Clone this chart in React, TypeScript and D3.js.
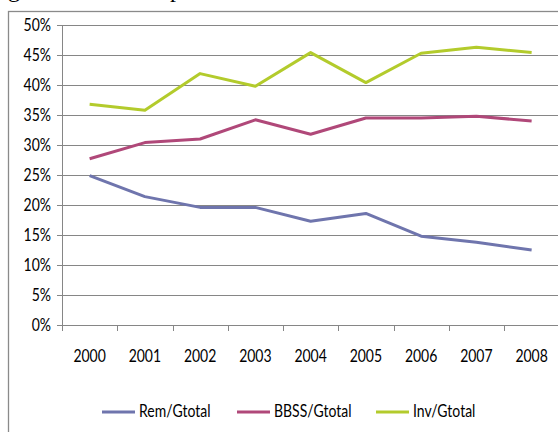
import React from "react";
import * as d3 from "d3";

const years = ["2000", "2001", "2002", "2003", "2004", "2005", "2006", "2007", "2008"];
const remGtotal = [0.249, 0.214, 0.196, 0.196, 0.173, 0.186, 0.148, 0.138, 0.125];
const bbssGtotal = [0.277, 0.304, 0.31, 0.342, 0.318, 0.345, 0.345, 0.348, 0.34];
const invGtotal = [0.368, 0.358, 0.419, 0.398, 0.454, 0.404, 0.453, 0.463, 0.454];
const yTicks = [0, 0.05, 0.1, 0.15, 0.2, 0.25, 0.3, 0.35, 0.4, 0.45, 0.5];
const seriesNames = ["Rem/Gtotal", "BBSS/Gtotal", "Inv/Gtotal"];
const seriesColors = ["#6f75ad", "#b04879", "#b3cb2c"];

const W = 558;
const H = 432;
const FONT = "Lato, 'Open Sans', sans-serif";

export default function App() {
  const x = d3.scaleBand<string>().domain(years).range([62, 559.25]).padding(0);
  const y = d3.scaleLinear().domain([0, 0.5]).range([325, 25]);
  const line = d3
    .line<number>()
    .x((_, i) => (x(years[i]) as number) + x.bandwidth() / 2)
    .y((v) => y(v));
  const allSeries = [remGtotal, bbssGtotal, invGtotal];
  const legendX = [102, 237, 376];

  return (
    <svg
      width={W}
      height={H}
      style={{ position: "fixed", left: 0, top: 0, background: "#fff" }}
      fontFamily={FONT}
    >
      {/* clipped heading text above the frame */}
      <text x={8} y={-3} fontFamily="'Liberation Serif', serif" fontSize={24} fill="#000">
        g
      </text>
      <text x={170} y={-3} fontFamily="'Liberation Serif', serif" fontSize={24} fill="#000">
        p
      </text>
      {/* chart frame */}
      <rect x={8.5} y={11.5} width={600} height={500} fill="#fff" stroke="#8a8a8a" strokeWidth={1.3} />
      {/* gridlines */}
      {yTicks.map((t) => (
        <line
          key={"g" + t}
          x1={62}
          x2={W}
          y1={Math.round(y(t)) + 0.5}
          y2={Math.round(y(t)) + 0.5}
          stroke="#868686"
          strokeWidth={1}
        />
      ))}
      {/* y axis */}
      <line x1={62.5} x2={62.5} y1={25} y2={325.5} stroke="#868686" />
      {yTicks.map((t) => (
        <g key={"yt" + t}>
          <line x1={57} x2={62} y1={Math.round(y(t)) + 0.5} y2={Math.round(y(t)) + 0.5} stroke="#868686" />
          <text
            transform={`translate(51,${y(t) + 5.5}) scale(1,1.22)`}
            textAnchor="end"
            fontSize={14}
            fill="#000"
          >
            {Math.round(t * 100) + "%"}
          </text>
        </g>
      ))}
      {/* x ticks */}
      {years.map((yr) => (
        <line
          key={"xt" + yr}
          x1={Math.round(x(yr) as number) + 0.5}
          x2={Math.round(x(yr) as number) + 0.5}
          y1={325}
          y2={331}
          stroke="#868686"
        />
      ))}
      {years.map((yr) => (
        <text
          key={"xl" + yr}
          transform={`translate(${(x(yr) as number) + x.bandwidth() / 2},${362}) scale(1,1.22)`}
          textAnchor="middle"
          fontSize={14}
          fill="#000"
        >
          {yr}
        </text>
      ))}
      {/* lines */}
      {allSeries.map((s, i) => (
        <path
          key={"s" + i}
          d={line(s) || ""}
          fill="none"
          stroke={seriesColors[i]}
          strokeWidth={3}
          strokeLinejoin="round"
        />
      ))}
      {/* legend */}
      {seriesNames.map((n, i) => (
        <g key={"lg" + n}>
          <line
            x1={legendX[i]}
            x2={legendX[i] + 33}
            y1={412}
            y2={412}
            stroke={seriesColors[i]}
            strokeWidth={3}
          />
          <text
            transform={`translate(${legendX[i] + 37},${417}) scale(1,1.22)`}
            fontSize={14}
            fill="#000"
          >
            {n}
          </text>
        </g>
      ))}
    </svg>
  );
}
